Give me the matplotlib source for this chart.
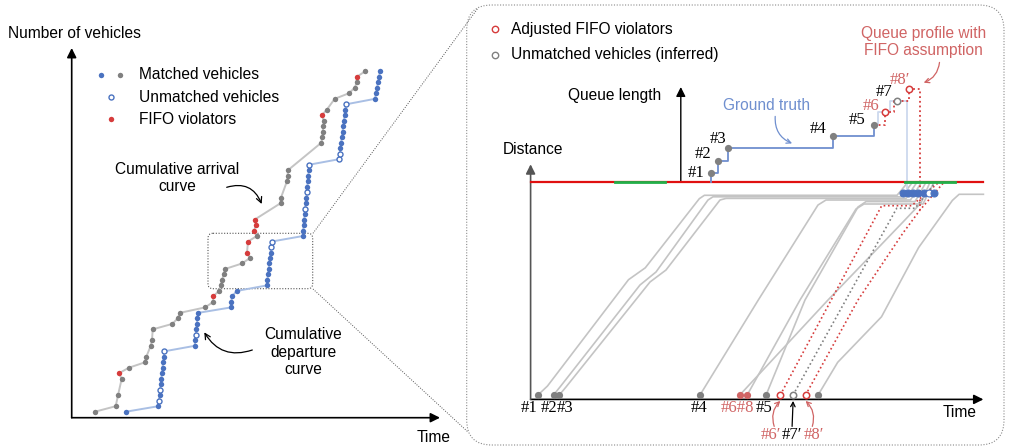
import matplotlib
matplotlib.use('Agg')
import matplotlib.pyplot as plt
from matplotlib.patches import FancyBboxPatch

W, H = 1009, 447
plt.rcParams['font.family'] = ['Liberation Sans', 'DejaVu Sans']
FS = 11.2
SERIF = ['Liberation Serif', 'DejaVu Serif']
FS_ID = 12

BLUE = '#4a72c0'
LBLUE = '#a9bfe4'
GTBLUE = '#6f8fcf'
GRAY = '#808080'
LGRAY = '#c4c4c4'
RED = '#d63c3c'
SOFTRED = '#d06464'

# ---- left panel: cumulative curves (time offset, vehicle count) ----
arr_t = [23.3, 44, 46.3, 50, 47.3, 57, 73.3, 74.6, 79, 80.3, 81, 100.6, 106, 108,
         133.3, 141.6, 141.3, 147.3, 149, 150.3, 152, 153.3, 170.3, 178.3, 175.3,
         176.3, 185, 182.3, 184.3, 183, 209, 209.3, 215.3, 216, 216.3, 249.6, 250.6,
         251, 251.6, 252.3, 250, 255, 263, 277, 283, 285, 285, 293.3]
arr_n = [0, 1, 3, 6, 7, 8, 9, 10, 12, 13, 15, 16, 17, 18, 19, 20, 21, 22, 23, 24, 25,
         26, 27, 28, 29, 31, 32, 33, 34, 35, 38, 39, 42, 43, 44, 49, 50, 51, 52, 53,
         54, 55, 57, 58, 59, 60, 61, 62]
fifo_n = [7, 21, 29, 31, 33, 34, 35, 54, 61]

dep_t = [54.3, 86.6, 87.2, 87.8, 88.4, 89, 89.6, 90.2, 90.8, 91.4, 92, 92.6,
         123, 123.5, 124.1, 124.6, 125.2, 125.7, 126.3,
         159.3, 159.6, 160.3, 165,
         195, 195.6, 196.3, 196.9, 197.5, 198.1, 198.8, 199.4, 200,
         231, 231.5, 232, 232.5, 233, 233.5, 234, 234.6, 235.1, 235.6, 236.1, 236.6,
         237.1, 237.6,
         267.3, 268, 268.7, 269.4, 270.1, 270.8, 271.5, 272.2, 272.9, 273.6, 274.3,
         303.3, 304.3, 305.3, 306.3, 307.3, 308.3]
dep_n = list(range(len(dep_t)))
unmatched_n = [2, 4, 11, 14, 30, 31, 37, 40, 45, 46, 47, 56]

# ---- right panel: time-space diagram (time, distance) ----
stop_d = 217.2
stop_t_end = 452.8
green_phases = [(84.4, 134.3), (374.5, 424.5)]

traj_solid = [
    ([7.4, 16.9, 97.9, 114.7, 168.7, 173.8, 366.4, 377.4],
     [4.4, 13.4, 119.7, 131.6, 200.7, 204.1, 204.1, 217.2]),
    ([22.9, 29.4, 109.4, 125.4, 177.4, 182.4, 370.9, 381.9],
     [4.4, 12.4, 114.4, 127.4, 199.4, 202.6, 202.6, 217.2]),
    ([28.7, 35.4, 119.4, 135.4, 189.4, 195.4, 375.4, 386.4],
     [4.4, 12.4, 117.4, 129.4, 199.4, 201, 201, 217.2]),
    ([169.4, 227.7, 287.4, 295.4, 379.9, 390.9],
     [4.4, 99.4, 194.4, 199.4, 199.4, 217.2]),
    ([235.5, 274.4, 327.4, 335.4, 384.4, 395.4],
     [4.4, 99.4, 192.4, 197.8, 197.8, 217.2]),
    ([216.6, 269.4, 325.4, 333.4, 392.4, 403.4],
     [4.4, 99.4, 190.4, 195.4, 195.4, 217.2]),
    ([209.2, 297.4, 372.4, 390.4, 399.4],
     [4.4, 99.4, 177.4, 196.4, 217.2]),
    ([287.5, 307.1, 350.9, 388, 421.8, 428.5, 452.8],
     [4.4, 37.1, 82.6, 151.8, 199, 205.1, 205.1]),
]
traj_fifo_red = [
    ([249.7, 351.1, 381.1, 407.4], [4.4, 193.7, 193.7, 216.4]),
    ([275, 327.4, 372.4, 389.4, 413.4], [4.4, 99.4, 166.4, 189.4, 217.2]),
]
traj_inferred = ([262.5, 366.1, 384.4, 404.4], [4.4, 191.1, 191.1, 216.4])

entry_t = [7.4, 22.9, 28.7, 169.4, 209.2, 216.6, 235.5, 249.7, 262.5, 275, 287.5]
entry_kind = ['g', 'g', 'g', 'g', 'r', 'r', 'g', 'ro', 'go', 'ro', 'g']
entry_labels = [('#1', -1.3, 'k'), ('#2', 18.6, 'k'), ('#3', 34.4, 'k'), ('#4', 168, 'k'),
                ('#6#8', 206.5, SOFTRED), ('#5', 233.8, 'k')]
prime_labels = [('#6′', 240.2, SOFTRED), ('#7′', 261.5, 'k'), ('#8′', 282.8, SOFTRED)]

queue_t = [180.5, 187.3, 197.4, 302.3, 343.5, 354.3, 366.8, 378.6]
queue_d = [226.7, 238.8, 251.3, 263.4, 274.9, 287.0, 298.9, 310.7]
queue_kind = ['g', 'g', 'g', 'g', 'g', 'ro', 'go', 'ro']
queue_labels = [('#1', 165.3, 226, 'k'), ('#2', 172.8, 244.9, 'k'), ('#3', 187.9, 260.1, 'k'),
                ('#4', 287.8, 270.5, 'k'), ('#5', 326.6, 279.3, 'k'), ('#6', 340.8, 293.1, SOFTRED),
                ('#7', 353.6, 307.6, 'k'), ('#8′', 369.4, 319.1, SOFTRED)]

gt_t = [180.5, 180.5, 187.3, 187.3, 197.4, 197.4, 302.3, 302.3, 343.5, 343.5]
gt_d = [217.2, 226.7, 226.7, 238.8, 238.8, 251.3, 251.3, 263.4, 263.4, 274.9]
gt_tail_t = [343.5, 347.5, 347.5, 359.1, 359.1, 376.2, 376.2]
gt_tail_d = [274.9, 274.9, 287.0, 287.0, 298.9, 298.9, 206.0]
fifo_t = [343.5, 354.3, 354.3, 363.4, 363.4, 378.6, 378.6, 389.4, 389.4]
fifo_d = [274.9, 274.9, 287.0, 287.0, 298.9, 298.9, 310.7, 310.7, 189.4]

discharge_t = [372.1, 377.3, 382.5, 387.7, 392.9, 398.4, 403.4]
discharge_open = [False, False, False, False, False, True, False]
discharge_d = 206.4

fig = plt.figure(figsize=(W / 100, H / 100), dpi=100)

# overlay in pixel units for frames and free text
ov = fig.add_axes([0, 0, 1, 1])
ov.set_xlim(0, W)
ov.set_ylim(H, 0)
ov.axis('off')

# ================= left panel =================
axl = fig.add_axes([71.7 / W, 1 - 417.7 / H, (440 - 71.7) / W, (417.7 - 48) / H])
axl.set_xlim(0, 368.3)
axl.set_ylim(-1.093, 66.26)
axl.axis('off')

axl.plot(arr_t, arr_n, color=LGRAY, lw=1.4, zorder=1)
for t, n in zip(arr_t, arr_n):
    axl.plot(t, n, 'o', ms=3.9, color=RED if n in fifo_n else GRAY, mec='none', zorder=3)

axl.plot(dep_t, dep_n, color=LBLUE, lw=1.4, zorder=1)
for t, n in zip(dep_t, dep_n):
    if n in unmatched_n:
        axl.plot(t, n, 'o', ms=3.6, mfc='white', mec=BLUE, mew=1.0, zorder=3)
    else:
        axl.plot(t, n, 'o', ms=3.9, color=BLUE, mec='none', zorder=3)

ax_arrow = dict(arrowstyle='-|>', color='k', lw=1.2, mutation_scale=14, shrinkA=0, shrinkB=0)
axl.annotate('', xy=(1, 0), xytext=(0, 0), xycoords='axes fraction', arrowprops=ax_arrow,
             annotation_clip=False)
axl.annotate('', xy=(0, 1), xytext=(0, 0), xycoords='axes fraction', arrowprops=ax_arrow,
             annotation_clip=False)

ov.text(8, 33, 'Number of vehicles', fontsize=FS, va='center', ha='left')
ov.text(434, 437, 'Time', fontsize=FS, va='center', ha='center')

# legend
ov.plot(101.3, 74.7, 'o', ms=3.9, color=BLUE, mec='none')
ov.plot(120.3, 74.7, 'o', ms=3.9, color=GRAY, mec='none')
ov.plot(111, 97, 'o', ms=3.6, mfc='white', mec=BLUE, mew=1.0)
ov.plot(111, 119.3, 'o', ms=3.9, color=RED, mec='none')
for y, s in [(74.7, 'Matched vehicles'), (97, 'Unmatched vehicles'), (119.3, 'FIFO violators')]:
    ov.text(139.3, y, s, fontsize=FS, va='center', ha='left')

ov.text(177, 178, 'Cumulative arrival\ncurve', fontsize=FS, ha='center', va='center',
        linespacing=1.2)
ov.annotate('', xy=(261.7, 204), xytext=(226.7, 187.3),
            arrowprops=dict(arrowstyle='->', color='k', lw=0.9,
                            connectionstyle='arc3,rad=-0.45', shrinkA=0, shrinkB=0))
ov.text(303.3, 352, 'Cumulative\ndeparture\ncurve', fontsize=FS, ha='center', va='center',
        linespacing=1.2)
ov.annotate('', xy=(204.3, 332.3), xytext=(252.3, 350),
            arrowprops=dict(arrowstyle='->', color='k', lw=0.9,
                            connectionstyle='arc3,rad=-0.4', shrinkA=0, shrinkB=0))

# zoom frame and connectors
ov.add_patch(FancyBboxPatch((208, 233.3), 104.7, 55.4, boxstyle='round,pad=0,rounding_size=5',
                            fill=False, ec='#555555', lw=0.8, ls=(0, (1, 1.5))))
ov.plot([313, 478], [233.3, 8], color='#555555', lw=0.7, ls=(0, (1, 1.5)))
ov.plot([313, 468], [289, 432], color='#555555', lw=0.7, ls=(0, (1, 1.5)))
ov.add_patch(FancyBboxPatch((466.7, 5), 537.3, 440, boxstyle='round,pad=0,rounding_size=25',
                            fill=False, ec='#8a8a8a', lw=0.8, ls=(0, (1, 1.5))))

# ================= right panel =================
ox, oy = 530.6, 399.4
axr = fig.add_axes([ox / W, 1 - oy / H, (W - ox) / W, oy / H])
axr.set_xlim(0, W - ox)
axr.set_ylim(0, oy)
axr.axis('off')

for t, d in traj_solid:
    axr.plot(t, d, color=LGRAY, lw=1.2, zorder=2, clip_on=False)
for t, d in traj_fifo_red:
    axr.plot(t, d, color=RED, lw=1.2, ls=(0, (1, 1.6)), zorder=3, clip_on=False)
axr.plot(traj_inferred[0], traj_inferred[1], color=GRAY, lw=1.2, ls=(0, (1, 1.6)), zorder=3,
         clip_on=False)

# stop line with signal phases
axr.plot([0, stop_t_end], [stop_d, stop_d], color='#e01010', lw=1.6, zorder=4, clip_on=False)
for g0, g1 in green_phases:
    axr.plot([g0, g1], [stop_d, stop_d], color='#22b04a', lw=2.0, zorder=5)

# queue profiles
axr.plot(gt_tail_t, gt_tail_d, color='#cdd9ee', lw=1.3, zorder=3)
axr.plot(gt_t, gt_d, color=GTBLUE, lw=1.3, zorder=4)
axr.plot(fifo_t, fifo_d, color=RED, lw=1.3, ls=(0, (1, 1.6)), zorder=4)


def dot(ax, t, d, kind, ms=5.2):
    if kind == 'g':
        ax.plot(t, d, 'o', ms=ms, color=GRAY, mec='none', zorder=6, clip_on=False)
    elif kind == 'r':
        ax.plot(t, d, 'o', ms=ms, color=SOFTRED, mec='none', zorder=6, clip_on=False)
    elif kind == 'ro':
        ax.plot(t, d, 'o', ms=ms - 0.6, mfc='white', mec=RED, mew=1.1, zorder=6, clip_on=False)
    else:
        ax.plot(t, d, 'o', ms=ms - 0.6, mfc='white', mec=GRAY, mew=1.1, zorder=6, clip_on=False)


for t, d, k in zip(queue_t, queue_d, queue_kind):
    dot(axr, t, d, k)
for t, k in zip(entry_t, entry_kind):
    dot(axr, t, 4.4, k)
for t, op in zip(discharge_t, discharge_open):
    axr.plot(t, discharge_d, 'o', ms=5.0, mfc='white' if op else BLUE, mec=BLUE, mew=0.8,
             zorder=7)

for s, t, d, c in queue_labels:
    axr.text(t, d, s, fontsize=FS_ID, family=SERIF, color=c, ha='center', va='center')
for s, t, c in entry_labels:
    axr.text(t, -8.8, s, fontsize=FS_ID, family=SERIF, color=c, ha='center', va='center',
             clip_on=False)
for s, t, c in prime_labels:
    axr.text(t, -35.5, s, fontsize=FS_ID, family=SERIF, color=c, ha='center', va='center',
             clip_on=False)

small = dict(lw=0.9, shrinkA=0, shrinkB=0, mutation_scale=8)
axr.annotate('', xy=(249.7, -1.5), xytext=(243.6, -27), annotation_clip=False,
             arrowprops=dict(arrowstyle='->', color=SOFTRED,
                             connectionstyle='arc3,rad=-0.3', **small))
axr.annotate('', xy=(262.5, -1.5), xytext=(261.5, -27), annotation_clip=False,
             arrowprops=dict(arrowstyle='->', color='k', **small))
axr.annotate('', xy=(275, -1.5), xytext=(281.7, -27), annotation_clip=False,
             arrowprops=dict(arrowstyle='->', color=SOFTRED,
                             connectionstyle='arc3,rad=0.3', **small))

# axes of the time-space diagram
axr.annotate('', xy=(stop_t_end, 0), xytext=(0, 0), arrowprops=ax_arrow, annotation_clip=False)
axr.annotate('', xy=(0, 235.1), xytext=(0, 0), annotation_clip=False,
             arrowprops=dict(ax_arrow, color='#555555'))
axr.annotate('', xy=(150.2, 312.4), xytext=(150.2, stop_d), annotation_clip=False,
             arrowprops=dict(ax_arrow, lw=1.0))
axr.text(1.9, 249.4, 'Distance', fontsize=FS, ha='center', va='center')
axr.text(130.6, 303.9, 'Queue length', fontsize=FS, ha='right', va='center')
axr.text(429.5, -12.9, 'Time', fontsize=FS, ha='center', va='center')

axr.text(236.2, 293.5, 'Ground truth', fontsize=FS, color=GTBLUE, ha='center', va='center')
axr.annotate('', xy=(261.5, 256), xytext=(244.6, 283),
             arrowprops=dict(arrowstyle='->', color=GTBLUE, connectionstyle='arc3,rad=0.35',
                             **small))
axr.text(393.1, 357.3, 'Queue profile with\nFIFO assumption', fontsize=FS, color=SOFTRED,
         ha='center', va='center', linespacing=1.2)
axr.annotate('', xy=(393.1, 316.7), xytext=(408.9, 337), annotation_clip=False,
             arrowprops=dict(arrowstyle='->', color=SOFTRED, connectionstyle='arc3,rad=-0.3',
                             **small))

# right legend
axr.plot(-35.4, 370, 'o', ms=4.6, mfc='white', mec=RED, mew=1.0, clip_on=False)
axr.plot(-35.4, 344.7, 'o', ms=4.6, mfc='white', mec=GRAY, mew=1.0, clip_on=False)
axr.text(-19.6, 370, 'Adjusted FIFO violators', fontsize=FS, ha='left', va='center')
axr.text(-19.6, 344.7, 'Unmatched vehicles (inferred)', fontsize=FS, ha='left', va='center')

fig.savefig('out.png', dpi=100)
